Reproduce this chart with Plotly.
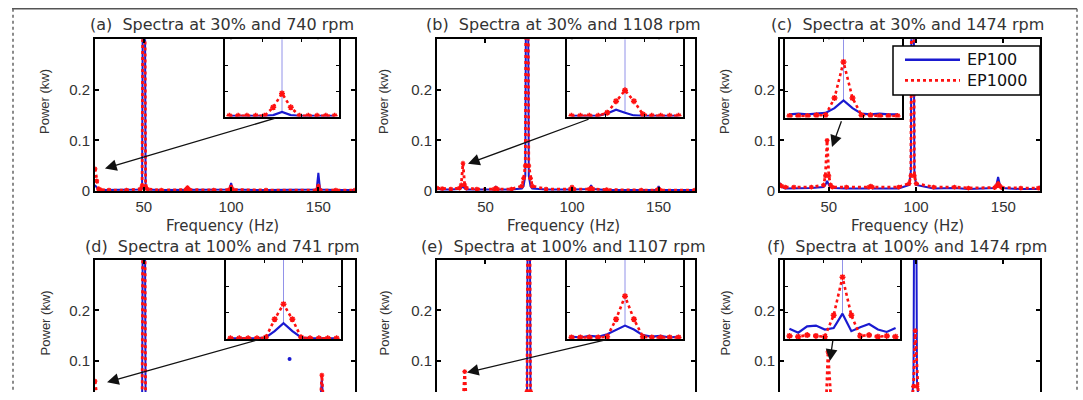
import plotly.graph_objects as go

W, H = 1083, 400
FONT = "Liberation Sans, Arial, sans-serif"
WFONT = "DejaVu Sans, Verdana, sans-serif"
TXT = "#333333"

# ---------------- data ----------------
freq_range = [22, 171]
power_range = [0, 0.3]
x_ticks = [50, 100, 150]
y_ticks = [0, 0.1, 0.2]
y_ticklabels = ["0", "0.1", "0.2"]

titles = ["(a)  Spectra at 30% and 740 rpm", "(b)  Spectra at 30% and 1108 rpm",
          "(c)  Spectra at 30% and 1474 rpm", "(d)  Spectra at 100% and 741 rpm",
          "(e)  Spectra at 100% and 1107 rpm", "(f)  Spectra at 100% and 1474 rpm"]
series_names = ["EP100", "EP1000"]

# (a)
freq_a = [22, 23, 24, 25, 30, 40, 48, 49, 50, 51, 52, 60, 74, 75, 76, 90, 99, 100, 101, 120, 149, 150, 151, 160, 171]
ep100_a = [0.012, 0.006, 0.002, 0.002, 0.002, 0.002, 0.003, 0.005, 1.0, 0.005, 0.003, 0.002, 0.002, 0.003, 0.002,
           0.002, 0.003, 0.016, 0.003, 0.002, 0.003, 0.036, 0.003, 0.002, 0.002]
ep1000_a = [0.044, 0.02, 0.004, 0.003, 0.002, 0.002, 0.004, 0.01, 1.0, 0.01, 0.004, 0.002, 0.003, 0.007, 0.003,
            0.002, 0.003, 0.008, 0.003, 0.002, 0.002, 0.01, 0.002, 0.002, 0.002]
# (b)
freq_b = [22, 25, 30, 35, 36, 37, 38, 39, 45, 55, 56, 57, 65, 71, 72, 73, 74, 75, 76, 77, 85, 99, 100, 101, 110,
          111, 112, 120, 140, 149, 150, 151, 171]
ep100_b = [0.004, 0.003, 0.003, 0.004, 0.006, 0.009, 0.005, 0.003, 0.003, 0.003, 0.008, 0.003, 0.003, 0.005, 0.01,
           0.03, 1.0, 0.03, 0.01, 0.005, 0.003, 0.003, 0.005, 0.003, 0.004, 0.012, 0.004, 0.002, 0.002, 0.002,
           0.01, 0.002, 0.002]
ep1000_b = [0.006, 0.005, 0.004, 0.006, 0.012, 0.055, 0.012, 0.006, 0.004, 0.004, 0.006, 0.004, 0.004, 0.01, 0.025,
            0.05, 1.0, 0.05, 0.025, 0.01, 0.004, 0.004, 0.008, 0.004, 0.004, 0.006, 0.004, 0.003, 0.002, 0.002,
            0.004, 0.002, 0.002]
# (c)
freq_c = [22, 23, 25, 30, 40, 47, 48, 49, 50, 51, 52, 60, 73, 74, 75, 90, 96, 97, 98, 99, 100, 110, 122, 130, 145,
          146, 147, 148, 149, 160, 170, 171]
ep100_c = [0.016, 0.008, 0.005, 0.005, 0.006, 0.008, 0.012, 0.02, 0.012, 0.008, 0.006, 0.005, 0.005, 0.008, 0.005,
           0.005, 0.012, 0.04, 1.0, 0.04, 0.012, 0.005, 0.006, 0.004, 0.006, 0.012, 0.028, 0.012, 0.006, 0.004,
           0.004, 0.01]
ep1000_c = [0.012, 0.01, 0.008, 0.008, 0.008, 0.012, 0.03, 0.1, 0.03, 0.012, 0.008, 0.008, 0.008, 0.01, 0.008,
            0.008, 0.015, 0.03, 1.0, 0.03, 0.015, 0.008, 0.008, 0.006, 0.007, 0.01, 0.015, 0.01, 0.007, 0.006,
            0.006, 0.006]
# (d)
freq_d = [22, 23, 24, 30, 49, 50, 51, 100, 151, 152, 153, 171]
ep100_d = [0.02, 0.008, 0.004, 0.004, 0.006, 1.0, 0.006, 0.004, 0.01, 0.065, 0.01, 0.004]
ep1000_d = [0.06, 0.02, 0.005, 0.004, 0.008, 1.0, 0.008, 0.004, 0.012, 0.072, 0.012, 0.004]
ep100_d_stray_f = [133.5]
ep100_d_stray_p = [0.104]
# (e)
freq_e = [22, 30, 36, 37, 38, 39, 40, 60, 73, 74, 75, 76, 77, 100, 171]
ep100_e = [0.005, 0.004, 0.005, 0.01, 0.02, 0.01, 0.005, 0.004, 0.01, 0.03, 1.0, 0.03, 0.01, 0.004, 0.004]
ep1000_e = [0.006, 0.005, 0.006, 0.015, 0.079, 0.015, 0.006, 0.005, 0.015, 0.04, 1.0, 0.04, 0.015, 0.005, 0.004]
# (f)
freq_f = [22, 30, 47.5, 48.5, 49.5, 50.5, 51.5, 52.5, 70, 97.5, 98.5, 99.5, 100.5, 101.5, 120, 171]
ep100_f = [0.006, 0.005, 0.006, 0.01, 0.02, 0.01, 0.006, 0.005, 0.005, 0.02, 0.06, 1.0, 0.06, 0.02, 0.005, 0.005]
ep1000_f = [0.008, 0.006, 0.008, 0.02, 0.118, 0.02, 0.008, 0.006, 0.006, 0.02, 0.05, 0.16, 0.05, 0.02, 0.006, 0.006]

# zoomed insets (bins around the marked peak, normalised power)
inset_bins = [-6, -5, -4, -3, -2, -1, 0, 1, 2, 3, 4, 5, 6]
inset_ep100 = [
    [0.01, 0.01, 0.01, 0.01, 0.01, 0.02, 0.06, 0.02, 0.01, 0.01, 0.01, 0.01, 0.01],
    [0.01, 0.01, 0.01, 0.01, 0.04, 0.09, 0.05, 0.015, 0.01, 0.01, 0.01, 0.01, 0.01],
    [0.04, 0.05, 0.04, 0.05, 0.06, 0.12, 0.22, 0.12, 0.05, 0.04, 0.05, 0.04, 0.04],
    [0.01, 0.01, 0.01, 0.01, 0.02, 0.1, 0.2, 0.1, 0.02, 0.01, 0.01, 0.01, 0.01],
    [0.03, 0.02, 0.04, 0.03, 0.06, 0.12, 0.17, 0.12, 0.05, 0.03, 0.04, 0.02, 0.03],
    [0.13, 0.08, 0.16, 0.17, 0.12, 0.14, 0.32, 0.10, 0.15, 0.19, 0.12, 0.09, 0.14],
]
inset_ep1000 = [
    [0.01, 0.01, 0.01, 0.01, 0.01, 0.12, 0.30, 0.12, 0.01, 0.01, 0.01, 0.01, 0.01],
    [0.01, 0.01, 0.01, 0.01, 0.05, 0.2, 0.34, 0.2, 0.03, 0.01, 0.01, 0.01, 0.01],
    [0.02, 0.02, 0.02, 0.03, 0.03, 0.25, 0.71, 0.25, 0.03, 0.03, 0.02, 0.02, 0.02],
    [0.01, 0.01, 0.01, 0.01, 0.02, 0.25, 0.44, 0.25, 0.02, 0.01, 0.01, 0.01, 0.01],
    [0.02, 0.02, 0.02, 0.02, 0.03, 0.25, 0.54, 0.25, 0.03, 0.02, 0.02, 0.02, 0.02],
    [0.04, 0.03, 0.05, 0.04, 0.03, 0.3, 0.78, 0.3, 0.04, 0.05, 0.03, 0.04, 0.03],
]
# arrows: (tail freq, tail power) -> (head freq, head power)
arrows = [(126.3, 0.145, 27.7, 0.0445), (110.4, 0.143, 39.9, 0.054), (57.5, 0.141, 51.8, 0.087),
          (116.6, 0.143, 28.9, 0.058), (120.8, 0.143, 39.3, 0.077), (52.4, 0.143, 50.6, 0.100)]

freqs = [freq_a, freq_b, freq_c, freq_d, freq_e, freq_f]
ep100 = [ep100_a, ep100_b, ep100_c, ep100_d, ep100_e, ep100_f]
ep1000 = [ep1000_a, ep1000_b, ep1000_c, ep1000_d, ep1000_e, ep1000_f]

# ---------------- layout geometry (pixels) ----------------
main_x = [(95, 355), (437, 695), (780, 1040)] * 2
row_y = [(40, 195), (265, 420)]
inset_box = [(225, 339, 40, 119), (567, 683, 40, 119), (785, 902, 40, 120),
             (226, 341, 265, 346), (567, 683, 265, 346), (785, 900, 265, 346)]
legend_box = (893, 1040, 47, 97)


def px(x):
    return x / W


def py(y):
    return 1 - y / H


BLUE = "#1a1ad0"
RED = "#ff1010"

fig = go.Figure()
layout = dict(width=W, height=H, margin=dict(l=0, r=0, t=0, b=0), paper_bgcolor="white",
              plot_bgcolor="white", showlegend=False)
annotations = []
shapes = []

for i in range(6):
    s = "" if i == 0 else str(i + 1)
    row = 0 if i < 3 else 1
    x0, x1 = main_x[i]
    ytop, ybot = row_y[row]
    vis_bot = min(ybot, H)
    ymin = power_range[1] - (vis_bot - ytop) / (ybot - ytop) * (power_range[1] - power_range[0])
    xa = dict(domain=[px(x0), px(x1)], range=freq_range, anchor="y" + s, tickvals=x_ticks,
              ticks="inside", ticklen=4, tickwidth=1.5, tickcolor="black", showline=True, linecolor="black",
              linewidth=2, showgrid=False, zeroline=False, ticklabelstandoff=1,
              tickfont=dict(family=FONT, size=15, color=TXT))
    if row == 0:
        xa.update(mirror="ticks")
    else:
        xa.update(side="top", showticklabels=False, mirror=False)
    ya = dict(domain=[py(vis_bot), py(ytop)], range=[ymin, power_range[1]], anchor="x" + s,
              tickvals=y_ticks, ticktext=y_ticklabels, ticks="inside", ticklen=4, tickwidth=1.5,
              tickcolor="black", showline=True, linecolor="black", linewidth=2, mirror="ticks",
              showgrid=False, zeroline=False, tickfont=dict(family=FONT, size=15, color=TXT))
    layout["xaxis" + s] = xa
    layout["yaxis" + s] = ya

    fig.add_trace(go.Scatter(x=freqs[i], y=ep100[i], mode="lines", line=dict(color=BLUE, width=2),
                             xaxis="x" + s, yaxis="y" + s, name=series_names[0], hoverinfo="skip"))
    fig.add_trace(go.Scatter(x=freqs[i], y=ep1000[i], mode="lines+markers",
                             line=dict(color=RED, width=2.8, dash="dot"),
                             marker=dict(symbol="asterisk-open", size=4, line=dict(color=RED, width=1.2)),
                             xaxis="x" + s, yaxis="y" + s, name=series_names[1], hoverinfo="skip"))
    if i == 3:
        fig.add_trace(go.Scatter(x=ep100_d_stray_f, y=ep100_d_stray_p, mode="markers",
                                 marker=dict(color=BLUE, size=4), xaxis="x" + s, yaxis="y" + s,
                                 name=series_names[0], hoverinfo="skip"))

    # inset
    k = str(i + 7)
    ix0, ix1, iy0, iy1 = inset_box[i]
    layout["xaxis" + k] = dict(domain=[px(ix0), px(ix1)], range=[-6.5, 6.5], anchor="y" + k,
                               tickvals=[-2.2, 2.2], ticks="inside", ticklen=3, tickcolor="black",
                               showticklabels=False, showline=True, linecolor="black", linewidth=2,
                               mirror="ticks", showgrid=False, zeroline=False)
    layout["yaxis" + k] = dict(domain=[py(iy1), py(iy0)], range=[0, 1], anchor="x" + k,
                               tickvals=[0.33, 0.66], ticks="inside", ticklen=3, tickcolor="black",
                               showticklabels=False, showline=True, linecolor="black", linewidth=2,
                               mirror="ticks", showgrid=False, zeroline=False)
    peak_b = inset_ep100[i][6]
    fig.add_trace(go.Scatter(x=[0, 0], y=[peak_b, 1], mode="lines",
                             line=dict(color="rgba(110,110,225,0.75)", width=1),
                             xaxis="x" + k, yaxis="y" + k, hoverinfo="skip"))
    fig.add_trace(go.Scatter(x=inset_bins, y=inset_ep100[i], mode="lines", line=dict(color=BLUE, width=2.2),
                             xaxis="x" + k, yaxis="y" + k, name=series_names[0], hoverinfo="skip"))
    fig.add_trace(go.Scatter(x=inset_bins, y=inset_ep1000[i], mode="lines+markers",
                             line=dict(color=RED, width=2.6, dash="dot"),
                             marker=dict(symbol="asterisk-open", size=5, line=dict(color=RED, width=1.5)),
                             xaxis="x" + k, yaxis="y" + k, name=series_names[1], hoverinfo="skip"))

    # arrow
    tx, ty, hx, hy = arrows[i]
    annotations.append(dict(x=hx, y=hy, ax=tx, ay=ty, xref="x" + s, yref="y" + s, axref="x" + s,
                            ayref="y" + s, text="", showarrow=True, arrowhead=2, arrowsize=1.8,
                            arrowwidth=1.3, arrowcolor="#111111"))
    # texts
    cx = (x0 + x1) / 2 - 3
    title_y = 25 if row == 0 else 252
    annotations.append(dict(x=px(cx), y=py(title_y), xref="paper", yref="paper", text=titles[i],
                            showarrow=False, xanchor="center", yanchor="middle",
                            font=dict(family=WFONT, size=16, color=TXT)))
    if row == 0:
        annotations.append(dict(x=px(cx), y=py(231), xref="paper", yref="paper", text="Frequency (Hz)",
                                showarrow=False, xanchor="center", yanchor="middle",
                                font=dict(family=WFONT, size=15, color=TXT)))
    ylab_x = [45, 384, 725][i % 3]
    ylab_y = 104 if row == 0 else 330
    annotations.append(dict(x=px(ylab_x), y=py(ylab_y), xref="paper", yref="paper", text="Power (kw)",
                            showarrow=False, textangle=-90, xanchor="center", yanchor="middle",
                            font=dict(family=FONT, size=13, color=TXT)))

# legend (drawn as a boxed key inside panel c)
lx0, lx1, ly0, ly1 = legend_box
shapes.append(dict(type="rect", xref="paper", yref="paper", x0=px(lx0), x1=px(lx1), y0=py(ly1), y1=py(ly0),
                   line=dict(color="black", width=1.5), fillcolor="white", layer="above"))
for j, (name, col, dash) in enumerate([(series_names[0], BLUE, "solid"), (series_names[1], RED, "dot")]):
    yy = 61 + 21 * j
    shapes.append(dict(type="line", xref="paper", yref="paper", x0=px(lx0 + 12), x1=px(lx0 + 67),
                       y0=py(yy), y1=py(yy), line=dict(color=col, width=2.6, dash=dash), layer="above"))
    annotations.append(dict(x=px(lx0 + 72), y=py(yy), xref="paper", yref="paper", text=name,
                            showarrow=False, xanchor="left", yanchor="middle",
                            font=dict(family=WFONT, size=16, color="#111111")))

shapes += [
    dict(type="line", xref="paper", yref="paper", x0=px(12), x1=px(1077), y0=py(9), y1=py(9),
         line=dict(color="#555555", width=1.5)),
    dict(type="line", xref="paper", yref="paper", x0=px(13), x1=px(13), y0=py(9), y1=0,
         line=dict(color="#666666", width=1.5, dash="dot")),
    dict(type="line", xref="paper", yref="paper", x0=px(1077), x1=px(1077), y0=py(9), y1=0,
         line=dict(color="#666666", width=1.5, dash="dot")),
]
layout["annotations"] = annotations
layout["shapes"] = shapes
fig.update_layout(**layout)
fig.write_html("out.html")
